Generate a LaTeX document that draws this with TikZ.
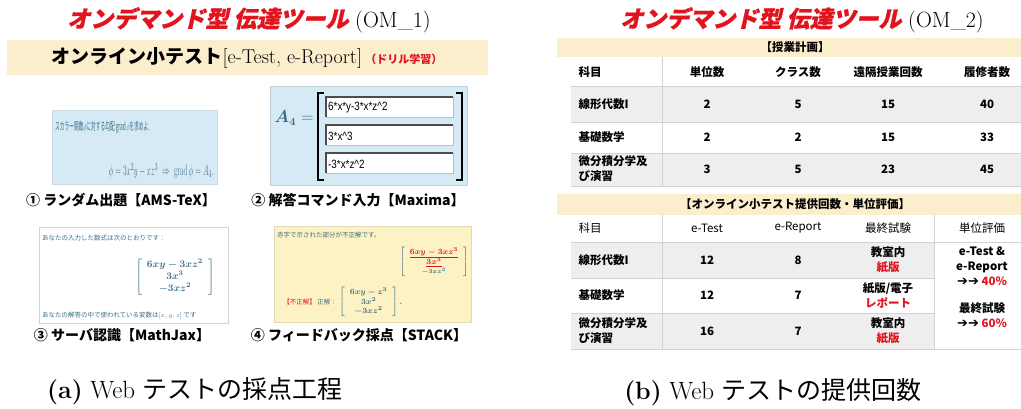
\documentclass[tikz,border=0pt]{standalone}
\usepackage{amsmath,amssymb}
\usepackage{fontspec}
\usepackage{tikz}
\usetikzlibrary{positioning}
\newfontfamily\jp{Noto Sans CJK JP}
\newfontfamily\jpsl[FakeSlant=0.22,FakeBold=1]{Noto Sans CJK JP}
\newfontfamily\arw{DejaVu Sans}
\newfontfamily\inp{Liberation Sans}
\definecolor{band}{RGB}{251,238,204}
\definecolor{imgblue}{RGB}{214,234,245}
\definecolor{imgyel}{RGB}{253,242,196}
\definecolor{rowgray}{RGB}{238,238,238}
\definecolor{rulegray}{RGB}{210,210,210}
\definecolor{mathblue}{RGB}{62,110,135}
\definecolor{omred}{RGB}{225,20,30}
\newsavebox\matInput
\newsavebox\matWrong
\newsavebox\matRight

\begin{document}
\sbox\matInput{\color{mathblue}\boldmath$\left[\begin{array}{c}6xy-3xz^2\\3x^3\\-3xz^2\end{array}\right]$}
\sbox\matWrong{\fontsize{8}{9}\selectfont\color{mathblue}\boldmath$\left[\begin{array}{c}\color{omred}\underline{6xy-3xz^3}\\\color{omred}\underline{3x^3}\\\scriptstyle -3xz^3\end{array}\right]$}
\sbox\matRight{\fontsize{8}{9}\selectfont\color{mathblue}\boldmath$\left[\begin{array}{c}6xy-z^3\\3x^2\\-3xz^2\end{array}\right].$}
\begin{tikzpicture}[x=1pt,y=-1pt]
    \tikzstyle{omtitle}=[font=\fontsize{22}{22}\selectfont]
    \tikzstyle{shotcap}=[font=\jp\bfseries\fontsize{14}{14}\selectfont]
    \tikzstyle{cell}=[font=\jp\bfseries\fontsize{11.5}{15}\selectfont,align=center]
    \tikzstyle{shot}=[draw=rulegray,line width=0.8pt]
    \tikzstyle{shottext}=[font=\jp\fontsize{6.5}{6.5}\selectfont,text=mathblue,inner sep=0pt]
    \tikzstyle{subcap}=[font=\fontsize{25}{25}\selectfont]

    \useasboundingbox (0,0) rectangle (1021,408);

    % (a) left panel
    \node[omtitle] (t1) at (249,20) {{\jpsl\bfseries\fontsize{23}{23}\selectfont\color{omred}オンデマンド型 伝達ツール} (OM\_1)};
    \fill[band] (7,40) rectangle (488,75);
    \node (b1) at (247,58) {{\jp\bfseries\fontsize{19}{19}\selectfont オンライン小テスト}{\fontsize{20}{20}\selectfont[e-Test, e-Report]} {\jp\bfseries\fontsize{11}{11}\selectfont\color{omred}（ドリル学習）}};

    % shot 1
    \draw[shot,draw=imgblue!85!gray,fill=imgblue] (52,110) rectangle (217,184);
    \node[shottext,anchor=west] (q1) at (55,127) {\scalebox{0.43}[1]{\fontsize{11}{11}\selectfont スカラー関数$\phi$に対する勾配 grad$\,\phi$を求めよ.}};
    \node[text=mathblue,anchor=east,inner sep=0pt] (f1) at (214,171) {\scalebox{0.52}[1]{\fontsize{15}{15}\selectfont$\phi=3x^2y-xz^3\;\Rightarrow\;\mathrm{grad}\,\phi=A_4.$}};

    % shot 2
    \draw[shot,draw=imgblue!75!gray,fill=imgblue] (270,86) rectangle (467,185);
    \node[text=mathblue] (a4) at (294,118) {\fontsize{16}{16}\selectfont$\boldsymbol{A_4}=$};
    \draw[line width=1.6pt] (324,93) -- (318,93) -- (318,180) -- (324,180);
    \draw[line width=1.6pt] (456,93) -- (462,93) -- (462,180) -- (456,180);
    \foreach \i/\y/\t in {1/97/{6*x*y-3*x*z\textasciicircum2},2/125/{3*x\textasciicircum3},3/153/{-3*x*z\textasciicircum2}}
    {
        \draw[fill=white,draw=gray!50] (326,\y) rectangle (453,\y+20);
        \draw[gray!60!black,line width=1.2pt] (326,\y+20) -- (326,\y) -- (453,\y);
        \node[anchor=west,font=\inp\fontsize{12}{12}\selectfont,inner sep=1pt] (in\i) at (327,\y+11) {\scalebox{0.82}[1]{\t}};
    }

    % shot 3
    \draw[shot,fill=white] (39,227) rectangle (228,323);
    \node[shottext,anchor=west] (q3) at (42,238) {あなたの入力した数式は次のとおりです：};
    \node (m3) at (175,277) {\usebox\matInput};
    \node[shottext,anchor=west] (v3) at (42,315) {あなたの解答の中で使われている変数は$[x,y,z]$ です};

    % shot 4
    \draw[shot,draw=imgyel!80!gray,fill=imgyel] (274,226) rectangle (471,322);
    \node[shottext,anchor=west] (q4) at (277,235) {赤字で示された部分が不正解です。};
    \node (m4) at (434,262) {\usebox\matWrong};
    \node[shottext,anchor=east] (ng) at (337,302) {\color{omred}【不正解】\ \color{mathblue}正解：};
    \node[anchor=west,inner sep=0pt] (m5) at (339,302) {\usebox\matRight};

    \node[shotcap] (c1) at (121,200) {① ランダム出題【AMS-TeX】};
    \node[shotcap] (c2) at (358,200) {② 解答コマンド入力【Maxima】};
    \node[shotcap] (c3) at (122,335) {③ サーバ認識【MathJax】};
    \node[shotcap] (c4) at (359,335) {④ フィードバック採点【STACK】};

    \node[subcap] (sa) at (195,391) {\textbf{(a)} Web {\jp テストの採点工程}};

    % (b) right panel
    \node[omtitle] (t2) at (802,20) {{\jpsl\bfseries\fontsize{23}{23}\selectfont\color{omred}オンデマンド型 伝達ツール} (OM\_2)};

    \fill[band] (557,38) rectangle (1021,57);
    \node[cell] (h1) at (795,47) {【授業計画】};
    \fill[rowgray] (571,86) rectangle (1021,122);
    \fill[rowgray] (571,153) rectangle (1021,186);
    \foreach \y in {86,122,153,186}
        \draw[rulegray,line width=1pt] (571,\y) -- (1021,\y);
    \draw[rulegray,line width=1pt] (662,57) -- (662,186);
    \foreach \i/\y/\a/\b/\c/\d/\e in {0/72/科目/単位数/クラス数/遠隔授業回数/履修者数,
        1/104/線形代数I/2/5/15/40, 2/137/基礎数学/2/2/15/33, 3/169/{微分積分学及\\び演習}/3/5/23/45}
    {
        \node[cell,anchor=west,align=left] (p\i-1) at (575,\y) {\a};
        \node[cell] (p\i-2) at (707,\y) {\b};
        \node[cell] (p\i-3) at (798,\y) {\c};
        \node[cell] (p\i-4) at (888,\y) {\d};
        \node[cell] (p\i-5) at (987,\y) {\e};
    }

    \fill[band] (557,194) rectangle (1021,215);
    \node[cell] (h2) at (795,204) {【オンライン小テスト提供回数・単位評価】};
    \fill[rowgray] (571,242) rectangle (934,278);
    \fill[rowgray] (571,313) rectangle (934,349);
    \draw[rulegray,line width=1pt] (571,242) -- (1021,242);
    \draw[rulegray,line width=1pt] (571,278) -- (934,278);
    \draw[rulegray,line width=1pt] (571,313) -- (934,313);
    \draw[rulegray,line width=1pt] (571,349) -- (1021,349);
    \draw[rulegray,line width=1pt] (662,215) -- (662,349);
    \draw[rulegray,line width=1pt] (934,215) -- (934,349);
    \foreach \i/\y/\a/\b/\c/\d in {1/260/線形代数I/12/8/{教室内\\\textcolor{omred}{紙版}},
        2/295/基礎数学/12/7/{紙版/電子\\\textcolor{omred}{レポート}},
        3/331/{微分積分学及\\び演習}/16/7/{教室内\\\textcolor{omred}{紙版}}}
    {
        \node[cell,anchor=west,align=left] (r\i-1) at (575,\y) {\a};
        \node[cell] (r\i-2) at (707,\y) {\b};
        \node[cell] (r\i-3) at (798,\y) {\c};
        \node[cell] (r\i-4) at (888,\y) {\d};
    }
    \node[cell,font=\jp\fontsize{11.5}{15}\selectfont,anchor=west] (r0-1) at (575,228) {科目};
    \foreach \j/\x/\t in {2/707/e-Test,3/798/e-Report,4/888/最終試験,5/982/単位評価}
        \node[cell,font=\jp\fontsize{11.5}{15}\selectfont] (r0-\j) at (\x,228) {\t};
    \node[cell,anchor=north] (grade) at (982,243) {e-Test \&\\e-Report\\{\arw\fontsize{13}{13}\selectfont ➔➔} \textcolor{omred}{40\%}\\[12pt]最終試験\\{\arw\fontsize{13}{13}\selectfont ➔➔} \textcolor{omred}{60\%}};

    \node[subcap] (sb) at (773,392) {\textbf{(b)} Web {\jp テストの提供回数}};
\end{tikzpicture}
\end{document}
